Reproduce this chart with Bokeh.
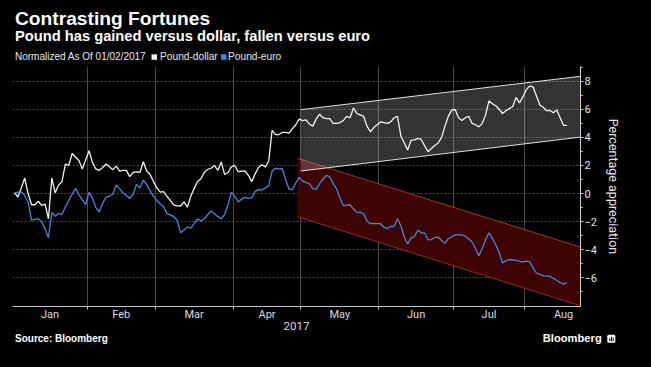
import numpy as np
import pandas as pd
from bokeh.plotting import figure
from bokeh.layouts import column
from bokeh.models import Range1d, FixedTicker, ColumnDataSource, Div
from bokeh.embed import file_html
from bokeh.resources import INLINE

# ---------------- data ----------------
title_text = "Contrasting Fortunes"
subtitle_text = "Pound has gained versus dollar, fallen versus euro"
note_text = "Normalized As Of 01/02/2017"
series_names = ["Pound-dollar", "Pound-euro"]
series_colors = ["#f2f2f2", "#4a86d8"]
month_labels = ["Jan", "Feb", "Mar", "Apr", "May", "Jun", "Jul", "Aug"]
year_label = "2017"
y_ticks = [-6, -4, -2, 0, 2, 4, 6, 8]
y_minor_ticks = [-7, -5, -3, -1, 1, 3, 5, 7, 9]
y_label = "Percentage appreciation"
source_text = "Source: Bloomberg"
brand_text = "Bloomberg"

first_day = "2017-01-02"
axis_last_day = "2017-08-31"

pound_dollar = [
    0.05, -0.25, 0.4, 1.1, 0.0,
    -0.8, -0.8, -0.55, -0.85, -0.75,
    -1.8, 1.1, 0.05, 0.6, 0.84,
    2.1, 2.0, 2.85, 2.6, 2.35,
    1.75, 2.4, 3.05, 2.2, 1.75,
    1.65, 1.85, 2.1, 1.9, 1.7,
    1.95, 1.6, 1.65, 1.65, 1.2,
    1.5, 1.55, 1.5, 2.26, 1.6,
    1.35, 0.85, 0.4, 0.1, 0.13,
    -0.2, -0.5, -0.82, -0.88, -0.89,
    -0.6, -0.98, -0.2, 0.35, 0.85,
    1.05, 1.5, 1.72, 1.8, 2.0,
    1.65, 2.25, 1.35, 1.5, 1.9,
    2.0, 1.55, 1.6, 1.62, 1.3,
    0.85, 1.4, 1.85, 2.05, 1.9,
    2.3, 4.5, 4.2, 4.2, 4.35,
    4.35, 4.3, 4.62, 4.9, 5.3,
    5.2, 5.25, 4.95, 4.8, 5.3,
    5.65, 5.4, 5.33, 5.33, 5.0,
    5.0, 5.05, 5.2, 5.5, 5.4,
    6.1, 5.7, 5.6, 5.5, 4.8,
    4.4, 4.7, 4.9, 5.1, 5.05,
    5.0, 5.1, 5.4, 5.5, 4.1,
    3.6, 3.1, 3.8, 3.82, 3.93,
    3.85, 3.4, 2.98, 3.2, 3.42,
    3.6, 4.0, 4.8, 5.5, 5.95,
    6.0, 5.4, 5.2, 5.4, 5.5,
    5.0, 4.9, 4.75, 5.0, 5.6,
    6.6, 6.4, 6.25, 6.0, 5.7,
    5.9, 6.05, 6.2, 6.85, 6.45,
    6.9, 7.4, 7.65, 7.6, 6.95,
    6.3, 6.15, 5.9, 5.92, 5.75,
    5.95, 5.4, 4.85, 4.85,
]

pound_euro = [
    0.05, 0.1, 0.12, -0.15, -0.6,
    -1.9, -1.85, -1.8, -2.0, -2.5,
    -3.15, -1.35, -1.62, -1.42, -1.5,
    -0.95, -0.5, -0.05, 0.37, -0.1,
    -0.46, -0.8, 0.1, -0.35, -1.0,
    -1.3, -0.7, -0.25, -0.18, -0.05,
    0.6, 0.35, 0.05, -0.15, -0.35,
    -0.05, 0.65, 0.4, 0.95, 0.65,
    0.2, -0.2, -0.5, -0.75, -0.94,
    -1.45, -1.52, -1.65, -1.9, -2.8,
    -2.6, -2.4, -2.47, -2.15, -1.8,
    -1.95, -1.8, -1.5, -1.25, -1.45,
    -1.65, -1.8, -1.5, -0.8, 0.1,
    -0.2, -0.6, -0.4, -0.28, -0.35,
    -0.3, 0.15, 0.28, 0.25, 0.4,
    0.55, 1.6, 1.8, 1.75, 1.78,
    1.0, 0.3, 0.3, 0.75, 1.15,
    0.9, 0.78, 0.7, 0.35, 0.3,
    0.7, 1.0, 1.3, 1.19, 0.72,
    0.35, -0.3, -0.85, -0.85, -0.8,
    -1.1, -1.33, -1.35, -1.45, -1.95,
    -2.15, -2.12, -2.15, -2.15, -2.4,
    -2.5, -2.35, -2.35, -1.8, -2.3,
    -3.1, -3.6, -3.18, -3.05, -2.6,
    -2.8, -2.8, -3.3, -3.28, -3.15,
    -3.1, -3.35, -3.55, -3.22, -3.1,
    -2.95, -2.95, -2.94, -3.05, -3.22,
    -3.45, -3.9, -4.45, -3.9, -3.3,
    -2.8, -3.2, -3.65, -4.2, -4.95,
    -4.78, -4.72, -4.72, -4.77, -4.82,
    -4.88, -4.82, -4.85, -5.3, -5.68,
    -5.75, -5.87, -5.88, -5.9, -6.05,
    -6.18, -6.35, -6.45, -6.35,
]

# trend channels (x in trading-day index)
dollar_channel_x = [84.4, 167.0]
dollar_channel_upper = [5.97, 8.35]
dollar_channel_lower = [1.6, 4.02]
euro_channel_x = [83.5, 167.0]
euro_channel_upper = [2.5, -3.82]
euro_channel_lower = [-1.65, -8.0]

# ---------------- axis helpers ----------------
all_days = pd.bdate_range(first_day, axis_last_day)
months = np.asarray(all_days.month)
label_pos = []
boundaries = []
for m in range(1, 9):
    idx = np.where(months == m)[0]
    label_pos.append(float(idx.mean()))
    if m > 1:
        boundaries.append(float(idx[0]) - 0.5)

x_idx = list(range(len(pound_dollar)))
src = ColumnDataSource(dict(x=x_idx, usd=pound_dollar, eur=pound_euro))

# ---------------- header / footer (inline svg text) ----------------
header_svg = f"""<svg xmlns="http://www.w3.org/2000/svg" width="651" height="66" style="display:block">
<rect x="0" y="0" width="651" height="66" fill="#000000"/>
<text x="15" y="25" font-family="Open Sans" font-weight="bold" font-size="19.2px" fill="#ffffff">{title_text}</text>
<text x="15" y="40.7" font-family="Open Sans" font-weight="bold" font-size="14.7px" fill="#ffffff">{subtitle_text}</text>
<text x="15" y="59.6" font-family="Roboto" font-size="10px" fill="#e8e8e8">{note_text}</text>
<rect x="151.5" y="54.3" width="5.5" height="5.5" fill="{series_colors[0]}"/>
<text x="160" y="59.6" font-family="Roboto" font-size="10.2px" fill="#e8e8e8">{series_names[0]}</text>
<rect x="221" y="54.3" width="5.5" height="5.5" fill="#3d87e6"/>
<text x="228" y="59.6" font-family="Roboto" font-size="10.2px" fill="#e8e8e8">{series_names[1]}</text>
</svg>"""

footer_svg = f"""<svg xmlns="http://www.w3.org/2000/svg" width="651" height="35" style="display:block">
<rect x="0" y="0" width="651" height="35" fill="#000000"/>
<text x="15" y="9.5" font-family="Open Sans" font-weight="bold" font-size="10px" fill="#ffffff">{source_text}</text>
<text x="542.7" y="10" font-family="Open Sans" font-weight="600" font-size="11.2px" fill="#ffffff">{brand_text}</text>
<rect x="607.3" y="2.7" width="8" height="8" rx="1.5" fill="#ffffff"/>
<rect x="609.3" y="6.2" width="1" height="3" fill="#000000"/>
<rect x="611" y="4.6" width="1" height="4.6" fill="#000000"/>
<rect x="612.7" y="5.6" width="1" height="3.6" fill="#000000"/>
</svg>"""

header = Div(text=header_svg, width=651, height=66, margin=0,
             styles={"background-color": "#000000"})
footer = Div(text=footer_svg, width=651, height=35, margin=0,
             styles={"background-color": "#000000"})

# ---------------- figure ----------------
p = figure(width=651, height=266, title=None,
           x_range=Range1d(-0.6, 167.0), y_range=Range1d(-8.05, 9.05),
           y_axis_location="right",
           output_backend="svg", toolbar_location=None,
           background_fill_color="black", border_fill_color="black",
           outline_line_color=None, margin=0,
           min_border_left=12, min_border_right=71,
           min_border_top=0, min_border_bottom=25)

# channels
p.varea(x=euro_channel_x, y1=euro_channel_lower, y2=euro_channel_upper,
        fill_color="#3e0303", fill_alpha=1.0)
p.line(euro_channel_x, euro_channel_upper, line_color="#b84040", line_width=1, line_alpha=0.85)
p.line(euro_channel_x, euro_channel_lower, line_color="#a83030", line_width=1, line_alpha=0.85)
p.varea(x=dollar_channel_x, y1=dollar_channel_lower, y2=dollar_channel_upper,
        fill_color="white", fill_alpha=0.2)
p.line(dollar_channel_x, dollar_channel_upper, line_color="#e0e0e0", line_width=1)
p.line(dollar_channel_x, dollar_channel_lower, line_color="#e0e0e0", line_width=1)

# series
p.line("x", "usd", source=src, line_color=series_colors[0], line_width=1.3)
p.line("x", "eur", source=src, line_color=series_colors[1], line_width=1.3)

# x axis
xt = FixedTicker(ticks=label_pos, minor_ticks=boundaries)
xa = p.xaxis[0]
xa.ticker = xt
xa.major_label_overrides = {pos: lab for pos, lab in zip(label_pos, month_labels)}
xa.axis_line_color = "#c8c8c8"
xa.major_tick_line_color = None
xa.major_tick_out = 0
xa.major_tick_in = 0
xa.minor_tick_line_color = "#c8c8c8"
xa.minor_tick_out = 3
xa.minor_tick_in = 0
xa.major_label_standoff = -2
xa.major_label_text_color = "#dcdcdc"
xa.major_label_text_font = "Roboto"
xa.major_label_text_font_size = "11px"
xa.axis_label = year_label
xa.axis_label_text_color = "#dcdcdc"
xa.axis_label_text_font = "Roboto"
xa.axis_label_text_font_size = "11.5px"
xa.axis_label_text_font_style = "normal"
xa.axis_label_standoff = -2

p.xgrid.ticker = xt
p.xgrid.grid_line_color = None
p.xgrid.minor_grid_line_color = "#4a4a4a"
p.xgrid.minor_grid_line_width = 1

# y axis (right)
yt = FixedTicker(ticks=y_ticks, minor_ticks=y_minor_ticks)
ya = p.yaxis[0]
ya.ticker = yt
ya.axis_line_color = "#d0d0d0"
ya.major_tick_line_color = "#d0d0d0"
ya.major_tick_out = 3
ya.major_tick_in = 0
ya.minor_tick_line_color = "#d0d0d0"
ya.minor_tick_out = 2
ya.minor_tick_in = 0
ya.major_label_standoff = 1
ya.major_label_text_color = "#e6e6e6"
ya.major_label_text_font = "Roboto"
ya.major_label_text_font_size = "11px"
ya.axis_label = y_label
ya.axis_label_text_color = "#e6e6e6"
ya.axis_label_text_font = "Roboto"
ya.axis_label_text_font_size = "12.5px"
ya.axis_label_text_font_style = "normal"
ya.axis_label_standoff = 6

p.ygrid.ticker = yt
p.ygrid.grid_line_color = "#4c4c4c"
p.ygrid.grid_line_dash = "2 2"
p.ygrid.grid_line_width = 1

layout = column(header, p, footer, spacing=0, margin=0,
                styles={"background-color": "#000000"})

html = file_html(layout, INLINE, title="Contrasting Fortunes")
with open("out.html", "w") as f:
    f.write(html)
